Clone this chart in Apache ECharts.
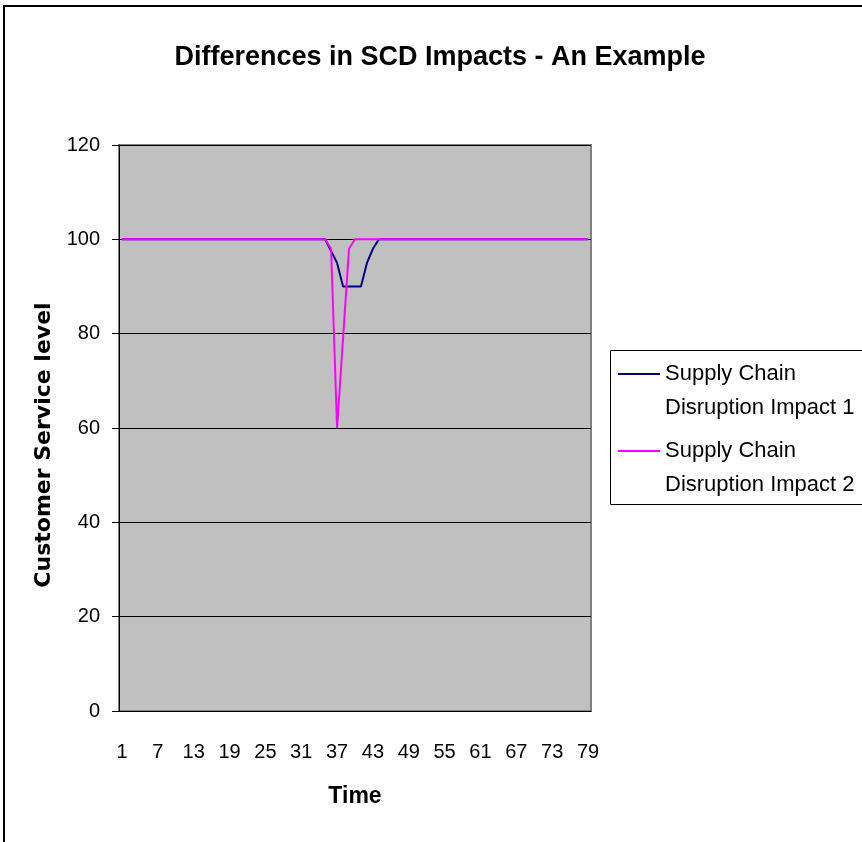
<!DOCTYPE html>
<html>
<head>
<meta charset="utf-8">
<script src="https://cdn.jsdelivr.net/npm/echarts@6/dist/echarts.min.js"></script>
<style>html,body{margin:0;padding:0;background:#fff;}#c{width:862px;height:842px;}</style>
</head>
<body>
<div id="c"></div>
<script>
var titleText = 'Differences in SCD Impacts - An Example';
var xName = 'Time';
var yName = 'Customer Service level';
var categories = ['1','2','3','4','5','6','7','8','9','10','11','12','13','14','15','16','17','18','19','20',
  '21','22','23','24','25','26','27','28','29','30','31','32','33','34','35','36','37','38','39','40',
  '41','42','43','44','45','46','47','48','49','50','51','52','53','54','55','56','57','58','59','60',
  '61','62','63','64','65','66','67','68','69','70','71','72','73','74','75','76','77','78','79'];
var seriesNames = ['Supply Chain Disruption Impact 1', 'Supply Chain Disruption Impact 2'];
var legendLabels = ['Supply Chain\nDisruption Impact 1', 'Supply Chain\nDisruption Impact 2'];
var impact1 = [100,100,100,100,100,100,100,100,100,100,100,100,100,100,100,100,100,100,100,100,
  100,100,100,100,100,100,100,100,100,100,100,100,100,100,100,97.5,95,90,90,90,
  90,95,98,100,100,100,100,100,100,100,100,100,100,100,100,100,100,100,100,100,
  100,100,100,100,100,100,100,100,100,100,100,100,100,100,100,100,100,100,100];
var impact2 = [100,100,100,100,100,100,100,100,100,100,100,100,100,100,100,100,100,100,100,100,
  100,100,100,100,100,100,100,100,100,100,100,100,100,100,100,98,60,79,98,100,
  100,100,100,100,100,100,100,100,100,100,100,100,100,100,100,100,100,100,100,100,
  100,100,100,100,100,100,100,100,100,100,100,100,100,100,100,100,100,100,100];
var yTicks = {min: 0, max: 120, interval: 20};

var arial = "'Liberation Sans', Arial, sans-serif";

var chart = echarts.init(document.getElementById('c'), null, {renderer: 'canvas'});
var legendText = {fontFamily: arial, fontSize: 22, color: '#000', lineHeight: 34};
function legendFor(i, top) {
  return {data: [seriesNames[i]], orient: 'vertical', left: 618, top: top, padding: 0,
    icon: 'rect', itemWidth: 42, itemHeight: 2, itemGap: 5,
    formatter: function(){ return '\n' + legendLabels[i]; }, textStyle: legendText, z: 5};
}
chart.setOption({
  animation: false,
  backgroundColor: '#fff',
  title: {
    text: titleText,
    left: 435, top: 39, textAlign: 'center',
    textStyle: {fontFamily: arial, fontWeight: 'bold', fontSize: 27, color: '#000'}
  },
  graphic: [
    {type: 'rect', shape: {x: 4, y: 6, width: 900, height: 900}, style: {fill: null, stroke: '#000', lineWidth: 2}, silent: true, z: 100},
    {type: 'rect', shape: {x: 610.5, y: 350.5, width: 300, height: 154}, style: {fill: '#fff', stroke: '#000', lineWidth: 1}, silent: true, z: 0}
  ],
  legend: [legendFor(0, 323), legendFor(1, 400)],
  grid: {left: 119, right: 271, top: 145, bottom: 131, show: true, backgroundColor: '#c0c0c0', borderColor: '#808080', borderWidth: 2, containLabel: false},
  xAxis: {
    type: 'category', data: categories, boundaryGap: true,
    name: xName, nameLocation: 'middle', nameGap: 74,
    nameTextStyle: {fontFamily: arial, fontWeight: 'bold', fontSize: 23, color: '#000'},
    axisLine: {lineStyle: {color: '#000', width: 1}},
    axisTick: {interval: 0, length: 7, lineStyle: {color: '#000'}},
    axisLabel: {interval: 5, margin: 31, fontFamily: arial, fontSize: 20, color: '#000'},
    splitLine: {show: false}
  },
  yAxis: {
    type: 'value', min: yTicks.min, max: yTicks.max, interval: yTicks.interval,
    name: yName, nameLocation: 'middle', nameGap: 56,
    nameTextStyle: {fontFamily: "'DejaVu Sans', sans-serif", fontWeight: 'bold', fontSize: 22, color: '#000', padding: [0, 34, 0, 0]},
    axisLine: {show: true, lineStyle: {color: '#000', width: 1}},
    axisTick: {show: true, length: 7, lineStyle: {color: '#000'}},
    axisLabel: {margin: 19, fontFamily: arial, fontSize: 20, color: '#000'},
    splitLine: {show: true, lineStyle: {color: '#000', width: 1}}
  },
  series: [
    {name: seriesNames[0], type: 'line', data: impact1, symbol: 'none', smooth: false, lineStyle: {color: '#000080', width: 2}, itemStyle: {color: '#000080'}, z: 3},
    {name: seriesNames[1], type: 'line', data: impact2, symbol: 'none', smooth: false, lineStyle: {color: '#ff00ff', width: 2}, itemStyle: {color: '#ff00ff'}, z: 4}
  ]
});
</script>
</body>
</html>
